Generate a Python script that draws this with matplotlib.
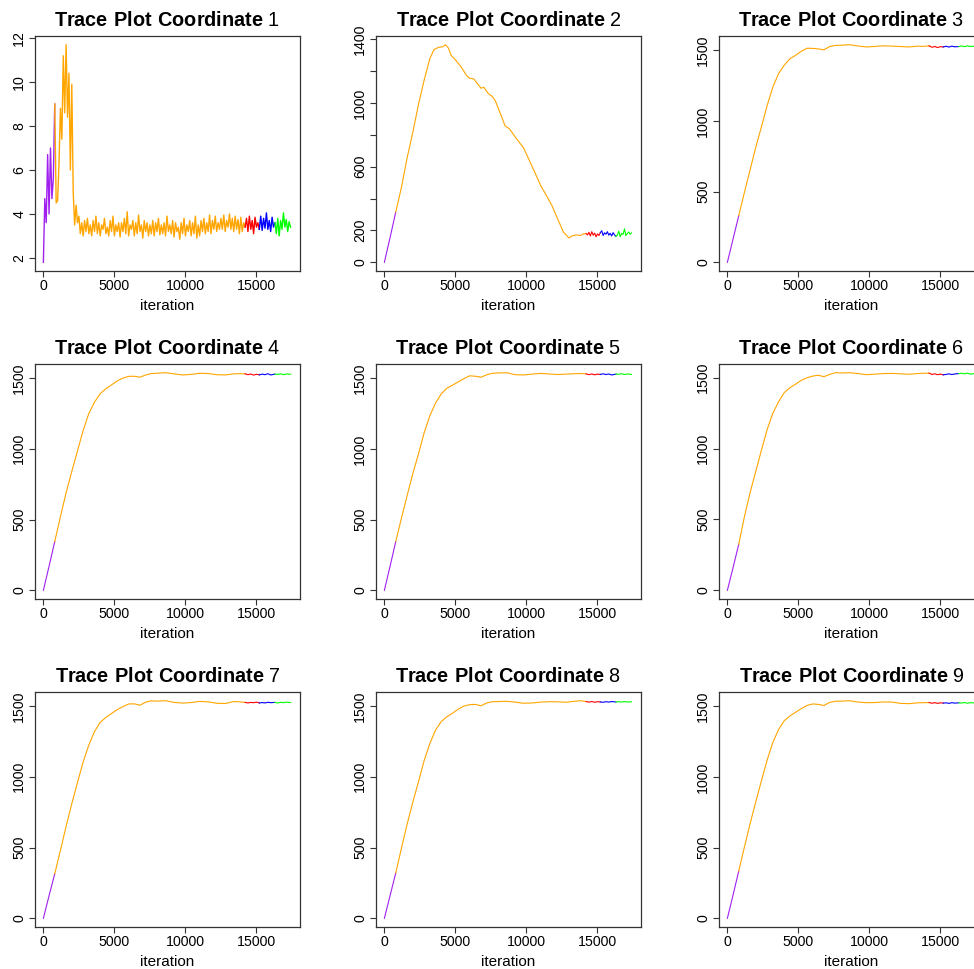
import numpy as np
import matplotlib
matplotlib.use("Agg")
import matplotlib.pyplot as plt

plt.rcParams['font.family'] = ['Liberation Sans', 'DejaVu Sans']
plt.rcParams['mathtext.fontset'] = 'custom'
plt.rcParams['mathtext.rm'] = 'Liberation Sans'
plt.rcParams['mathtext.bf'] = 'Liberation Sans:bold'

# chain colours and the iteration where each chain starts / ends
CHAIN_COLORS = ['#A020F0', '#FFA500', '#FF0000', '#0000FF', '#00FF00']
CHAIN_BOUNDS = [0, 800, 14200, 15200, 16300, 17400]

# coordinate 1: one value every 100 iterations (0 .. 17400)
ITER_C1 = np.arange(0, 17401, 100)
C1 = [1.8, 4.7, 3.6, 6.7, 4.0, 7.0, 4.7, 5.6, 9.0,
      4.5, 4.6, 6.3, 8.8, 7.4, 11.2, 8.6, 11.7, 8.4, 10.4, 6.0, 9.9, 5.0, 3.5, 4.4, 3.6,
      3.9, 3.1, 3.6, 3.0, 3.7, 3.2, 3.8, 3.1, 3.5, 3.0,
      3.7, 3.2, 3.9, 3.1, 3.6, 3.0, 3.5, 3.3, 3.8, 3.1,
      3.4, 3.0, 3.7, 3.2, 3.9, 3.0, 3.5, 3.2, 3.6, 2.95,
      3.6, 3.2, 3.8, 3.1, 4.1, 3.0, 3.5, 3.3, 3.7, 3.0,
      3.6, 3.1, 3.95, 3.2, 3.5, 2.9, 3.7, 3.2, 3.6, 3.0,
      3.5, 3.1, 3.7, 3.0, 3.6, 3.2, 3.8, 3.05, 3.5, 3.1,
      3.6, 3.0, 3.9, 3.2, 3.5, 3.1, 3.7, 2.95, 3.6, 3.2,
      3.4, 2.85, 3.6, 3.1, 3.8, 3.0, 3.5, 3.2, 3.7, 3.0,
      3.6, 3.1, 3.9, 2.9, 3.5, 3.0, 3.7, 3.2, 3.8, 3.1,
      3.6, 3.2, 3.95, 3.1, 3.7, 3.3, 3.9, 3.2, 3.6, 3.3,
      3.8, 3.3, 3.95, 3.2, 3.7, 3.4, 4.0, 3.3, 3.8, 3.2,
      3.9, 3.3, 3.75, 3.1, 3.85, 3.2, 3.6,
      3.4,
      3.8, 3.2, 3.9, 3.3, 3.7, 3.1, 3.85, 3.4, 3.6, 3.3,
      3.9, 3.25, 3.8, 3.35, 4.05, 3.3, 3.7, 3.2, 3.85, 3.4, 3.6,
      3.1, 3.8, 3.0, 3.7, 3.3, 4.05, 3.4, 3.75, 3.2, 3.65, 3.4]

# coordinate 2
ITER_C2 = [0, 400, 800, 1200, 1600, 2000, 2400, 2800, 3200, 3500, 3800, 4100, 4300,
           4500, 4700, 5000, 5400, 5800, 6000, 6300, 6600, 6800, 7000, 7300, 7600,
           7800, 8200, 8500, 8800, 9300, 9800, 10200, 10600, 11000, 11400, 11800,
           12200, 12600, 13000, 13200, 13500, 13800, 14000, 14200] + list(range(14300, 17401, 100))
C2 = [0, 155, 315, 470, 655, 815, 990, 1143, 1278, 1335, 1348, 1352, 1365,
      1345, 1298, 1270, 1226, 1170, 1155, 1150, 1115, 1092, 1098, 1060, 1040,
      1015, 925, 855, 838, 775, 718, 640, 562, 482, 420, 355,
      272, 190, 152, 165, 172, 168, 178, 180,
      172, 188, 165, 192, 170, 183, 160, 178, 168, 185,
      198, 168, 185, 176, 192, 170, 182, 165, 186, 172, 162,
      170, 195, 160, 182, 175, 210, 168, 180, 190, 176, 185]

# coordinates 3..9 share one iteration grid
ITER_SAT = [0, 400, 800, 1200, 1600, 2000, 2400, 2800, 3200, 3600, 4000, 4400, 4800,
            5200, 5600, 6000, 6400, 6800, 7200, 7600, 8000, 8600, 9200, 9800, 10400,
            11000, 11600, 12200, 12800, 13400, 13800, 14200, 14400, 14600, 14800,
            15000, 15200, 15400, 15600, 15800, 16000, 16300, 16500, 16700, 16900,
            17100, 17400]
C3 = [0, 165, 330, 495, 655, 815, 960, 1110, 1240, 1335, 1395, 1440, 1465, 1493, 1515,
      1514, 1510, 1504, 1527, 1535, 1536, 1540, 1531, 1524, 1528, 1532, 1530, 1527,
      1524, 1530, 1528, 1532, 1522, 1527, 1520, 1526, 1524, 1529, 1523, 1530, 1525,
      1527, 1531, 1526, 1532, 1527, 1530]
C4 = [0, 170, 345, 520, 690, 840, 985, 1130, 1250, 1330, 1390, 1425, 1452, 1480, 1500,
      1512, 1513, 1506, 1522, 1532, 1534, 1538, 1530, 1522, 1526, 1534, 1532, 1524,
      1522, 1530, 1531, 1530, 1524, 1529, 1521, 1527, 1523, 1528, 1524, 1531, 1522,
      1528, 1526, 1530, 1524, 1529, 1527]
C5 = [0, 170, 345, 510, 670, 825, 965, 1115, 1235, 1325, 1390, 1430, 1452, 1475, 1498,
      1518, 1515, 1508, 1525, 1536, 1538, 1540, 1526, 1524, 1530, 1535, 1531, 1527,
      1530, 1533, 1534, 1532, 1526, 1531, 1525, 1530, 1528, 1532, 1527, 1531, 1524,
      1530, 1529, 1533, 1527, 1531, 1528]
C6 = [0, 160, 325, 520, 690, 840, 990, 1135, 1250, 1330, 1395, 1430, 1455, 1482, 1500,
      1512, 1518, 1508, 1524, 1536, 1534, 1536, 1530, 1522, 1526, 1530, 1531, 1528,
      1525, 1530, 1532, 1533, 1524, 1528, 1522, 1526, 1521, 1524, 1528, 1523, 1527,
      1530, 1532, 1528, 1533, 1526, 1530]
C7 = [0, 160, 315, 480, 650, 810, 960, 1105, 1225, 1320, 1385, 1420, 1448, 1475, 1496,
      1515, 1516, 1506, 1528, 1537, 1535, 1538, 1526, 1521, 1525, 1533, 1530, 1520,
      1518, 1532, 1530, 1526, 1522, 1526, 1524, 1528, 1522, 1525, 1522, 1527, 1524,
      1526, 1522, 1527, 1524, 1528, 1525]
C8 = [0, 160, 320, 495, 665, 820, 965, 1115, 1235, 1330, 1390, 1425, 1450, 1478, 1500,
      1510, 1512, 1502, 1522, 1531, 1532, 1534, 1528, 1520, 1522, 1528, 1531, 1530,
      1527, 1534, 1538, 1532, 1528, 1532, 1527, 1531, 1529, 1527, 1531, 1528, 1532,
      1529, 1531, 1528, 1532, 1529, 1530]
C9 = [0, 165, 335, 505, 670, 825, 975, 1120, 1245, 1335, 1398, 1432, 1458, 1484, 1506,
      1517, 1514, 1506, 1528, 1536, 1537, 1540, 1530, 1526, 1527, 1531, 1530, 1521,
      1519, 1525, 1526, 1527, 1522, 1526, 1521, 1525, 1523, 1525, 1521, 1526, 1523,
      1525, 1524, 1527, 1522, 1526, 1524]

SERIES = [(ITER_C1, C1), (ITER_C2, C2)] + [(ITER_SAT, c) for c in (C3, C4, C5, C6, C7, C8, C9)]

YTICKS = [[2, 4, 6, 8, 10, 12], list(range(0, 1401, 200))] + [[0, 500, 1000, 1500]] * 7
YHIDE = [[], [400, 800, 1200]] + [[]] * 7
XTICKS = [0, 5000, 10000, 15000]

# layout measured in pixels
W, H = 974, 969
COL_LEFT = [35, 376, 719]
ROW_TOP = [36, 364, 692]
AX_W, AX_H = 265, 235

fig = plt.figure(figsize=(W / 100, H / 100), dpi=100)

for k, (it, vals) in enumerate(SERIES):
    r, c = divmod(k, 3)
    ax = fig.add_axes([COL_LEFT[c] / W, 1 - (ROW_TOP[r] + AX_H) / H, AX_W / W, AX_H / H])
    it = np.asarray(it)
    vals = np.asarray(vals, dtype=float)
    lw = 1.0 if k == 0 else 0.8
    for j, col in enumerate(CHAIN_COLORS):
        m = (it >= CHAIN_BOUNDS[j]) & (it <= CHAIN_BOUNDS[j + 1])
        ax.plot(it[m], vals[m], color=col, lw=lw)

    ax.set_xlim(-590, 18065)
    lo, hi = vals.min(), vals.max()
    pad = 0.04 * (hi - lo)
    ax.set_ylim(lo - pad, hi + pad)

    ax.set_xticks(XTICKS)
    ax.set_xticklabels([str(t) for t in XTICKS])
    ax.set_yticks(YTICKS[k])
    ax.set_yticklabels(['' if t in YHIDE[k] else str(t) for t in YTICKS[k]],
                       rotation=90, va='center')
    ax.tick_params(direction='out', length=4.3, width=0.8, color='#333333',
                   labelsize=10.2, labelcolor='black')
    ax.tick_params(axis='x', pad=1.5)
    ax.tick_params(axis='y', pad=2)
    for s in ax.spines.values():
        s.set_color('#333333')
        s.set_linewidth(0.9)

    ax.set_xlabel('iteration', fontsize=11, labelpad=4)
    ax.set_title(r'$\mathbf{Trace\ Plot\ Coordinate}$ ' + str(k + 1), fontsize=14.3, pad=7.5)

fig.savefig('out.png', dpi=100)
